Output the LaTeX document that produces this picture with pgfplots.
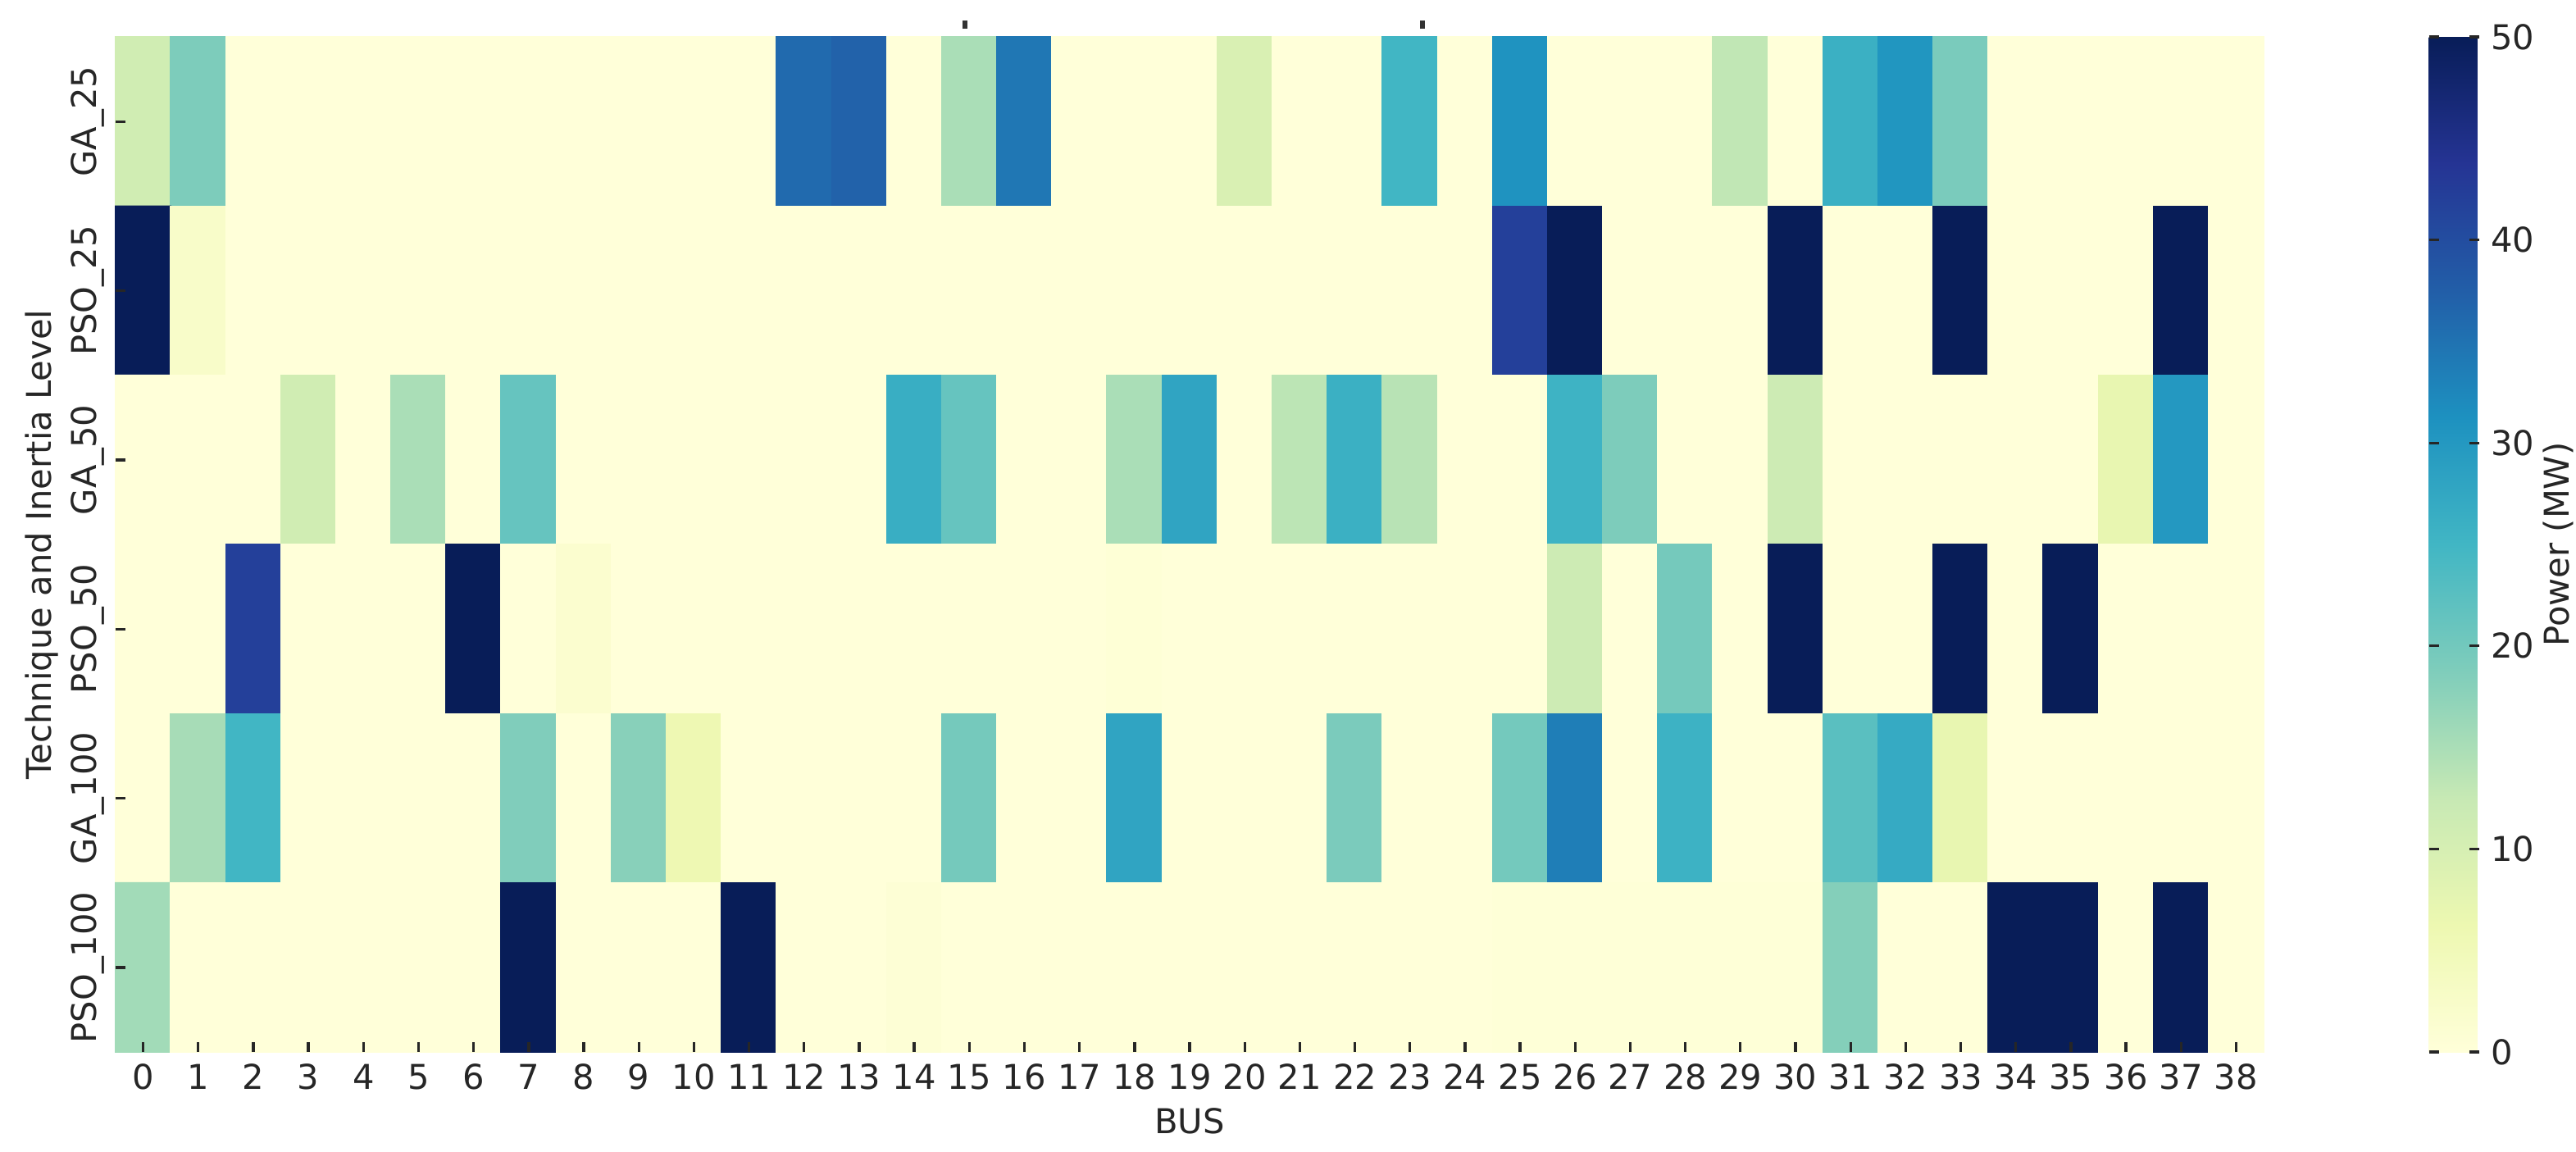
\documentclass[border=0pt]{standalone}
\usepackage{fontspec}
\setmainfont{DejaVu Sans}
\usepackage{pgfplots}
\pgfplotsset{compat=1.18}
\definecolor{txt}{HTML}{262626}
\pgfkeys{/pgf/number format/assume math mode=true}
\pgfplotsset{
  tick align=inside,
  major tick length=2.9pt,
  tick style={color=txt, line width=0.8pt},
  ticklabel style={font=\fontsize{10}{12}\selectfont, text=txt},
  label style={font=\fontsize{10}{12}\selectfont, text=txt},
  axis line style={draw=none},
}
\begin{document}
\begin{tikzpicture}
\useasboundingbox (-33.84pt,10.8pt) rectangle (720.24pt,-326.16pt);
\begin{axis}[
  at={(0,0)}, anchor=north west,
  scale only axis, width=628.8pt, height=297.12pt,
  xmin=-0.5, xmax=38.5, ymin=-0.5, ymax=5.5,
  y dir=reverse,
  enlargelimits=false,
  axis on top,
  clip=false,
  xtick={0,...,38}, ytick={0,...,5},
  yticklabels={GA\_25,PSO\_25,GA\_50,PSO\_50,GA\_100,PSO\_100},
  xtick pos=bottom, ytick pos=left,
  xticklabel style={anchor=base},
  xticklabel shift=10.8pt,
  yticklabel style={rotate=90, anchor=base},
  yticklabel shift=5.52pt,
  xlabel={BUS},
  xlabel style={at={(axis description cs:0.5,-0.07997)}, anchor=base},
  ylabel={Technique and Inertia Level},
  ylabel style={at={(axis description cs:-0.03015,0.5)}, anchor=base},
  colormap={ylgnbu}{rgb255=(255,255,217) rgb255=(237,248,177) rgb255=(199,233,180) rgb255=(127,205,187) rgb255=(65,182,196) rgb255=(29,145,192) rgb255=(34,94,168) rgb255=(37,52,148) rgb255=(8,29,88)},
  point meta min=0, point meta max=50,
  colorbar,
  colorbar style={
    at={(parent axis.north east)}, anchor=north west, xshift=39.84pt,
    scale only axis, width=14.64pt, height=297.12pt,
    ytick={0,10,...,50},
    axis line style={draw=none},
    yticklabel style={anchor=west},
    ylabel={Power (MW)},
    ylabel style={at={(axis description cs:2.803,0.5)}, anchor=base},
  },
]
\addplot[matrix plot*, mesh/cols=39, point meta=explicit] coordinates {
(0,0)[11] (1,0)[19] (2,0)[0] (3,0)[0] (4,0)[0] (5,0)[0] (6,0)[0] (7,0)[0] (8,0)[0] (9,0)[0] (10,0)[0] (11,0)[0] (12,0)[36] (13,0)[37] (14,0)[0] (15,0)[15] (16,0)[34.5] (17,0)[0] (18,0)[0] (19,0)[0] (20,0)[9.5] (21,0)[0] (22,0)[0] (23,0)[25] (24,0)[0] (25,0)[31] (26,0)[0] (27,0)[0] (28,0)[0] (29,0)[13] (30,0)[0] (31,0)[26] (32,0)[30.5] (33,0)[19.3] (34,0)[0] (35,0)[0] (36,0)[0] (37,0)[0] (38,0)[0]
(0,1)[50] (1,1)[2.5] (2,1)[0] (3,1)[0] (4,1)[0] (5,1)[0] (6,1)[0] (7,1)[0] (8,1)[0] (9,1)[0] (10,1)[0] (11,1)[0] (12,1)[0] (13,1)[0] (14,1)[0] (15,1)[0] (16,1)[0] (17,1)[0] (18,1)[0] (19,1)[0] (20,1)[0] (21,1)[0] (22,1)[0] (23,1)[0] (24,1)[0] (25,1)[42] (26,1)[50] (27,1)[0] (28,1)[0] (29,1)[0] (30,1)[50] (31,1)[0] (32,1)[0] (33,1)[50] (34,1)[0] (35,1)[0] (36,1)[0] (37,1)[50] (38,1)[0]
(0,2)[0] (1,2)[0] (2,2)[0] (3,2)[11] (4,2)[0] (5,2)[15] (6,2)[0] (7,2)[21.3] (8,2)[0] (9,2)[0] (10,2)[0] (11,2)[0] (12,2)[0] (13,2)[0] (14,2)[26.4] (15,2)[21.3] (16,2)[0] (17,2)[0] (18,2)[15] (19,2)[28] (20,2)[0] (21,2)[13.5] (22,2)[26] (23,2)[13.8] (24,2)[0] (25,2)[0] (26,2)[25.5] (27,2)[19] (28,2)[0] (29,2)[0] (30,2)[11.5] (31,2)[0] (32,2)[0] (33,2)[0] (34,2)[0] (35,2)[0] (36,2)[7] (37,2)[30] (38,2)[0]
(0,3)[0] (1,3)[0] (2,3)[42] (3,3)[0] (4,3)[0] (5,3)[0] (6,3)[50] (7,3)[0] (8,3)[1.5] (9,3)[0] (10,3)[0] (11,3)[0] (12,3)[0] (13,3)[0] (14,3)[0] (15,3)[0] (16,3)[0] (17,3)[0] (18,3)[0.4] (19,3)[0] (20,3)[0] (21,3)[0] (22,3)[0] (23,3)[0] (24,3)[0] (25,3)[0] (26,3)[11.5] (27,3)[0] (28,3)[19.8] (29,3)[0] (30,3)[50] (31,3)[0] (32,3)[0] (33,3)[50] (34,3)[0] (35,3)[50] (36,3)[0] (37,3)[0] (38,3)[0]
(0,4)[0] (1,4)[15.3] (2,4)[25] (3,4)[0] (4,4)[0] (5,4)[0] (6,4)[0] (7,4)[18.7] (8,4)[0] (9,4)[18] (10,4)[6] (11,4)[0] (12,4)[0] (13,4)[0] (14,4)[0] (15,4)[19.8] (16,4)[0] (17,4)[0] (18,4)[28] (19,4)[0] (20,4)[0] (21,4)[0] (22,4)[19.2] (23,4)[0] (24,4)[0] (25,4)[19.9] (26,4)[33.6] (27,4)[0] (28,4)[25.7] (29,4)[0] (30,4)[0] (31,4)[22.5] (32,4)[27] (33,4)[7] (34,4)[0] (35,4)[0] (36,4)[0] (37,4)[0] (38,4)[0]
(0,5)[15.7] (1,5)[0] (2,5)[0] (3,5)[0] (4,5)[0] (5,5)[0] (6,5)[0] (7,5)[50] (8,5)[0] (9,5)[0] (10,5)[0] (11,5)[50] (12,5)[0] (13,5)[0] (14,5)[0.7] (15,5)[0] (16,5)[0] (17,5)[0] (18,5)[0] (19,5)[0] (20,5)[0] (21,5)[0] (22,5)[0] (23,5)[0] (24,5)[0] (25,5)[0.3] (26,5)[0.3] (27,5)[0.3] (28,5)[0.3] (29,5)[0.3] (30,5)[0.3] (31,5)[18.3] (32,5)[0] (33,5)[0] (34,5)[50] (35,5)[50] (36,5)[0] (37,5)[50] (38,5)[0]
};
\draw[line width=1.5pt, color=black!80] (axis cs:14.92,-0.548) -- (axis cs:14.92,-0.597);
\draw[line width=1.5pt, color=black!80] (axis cs:23.23,-0.548) -- (axis cs:23.23,-0.597);
\end{axis}
\end{tikzpicture}
\end{document}
